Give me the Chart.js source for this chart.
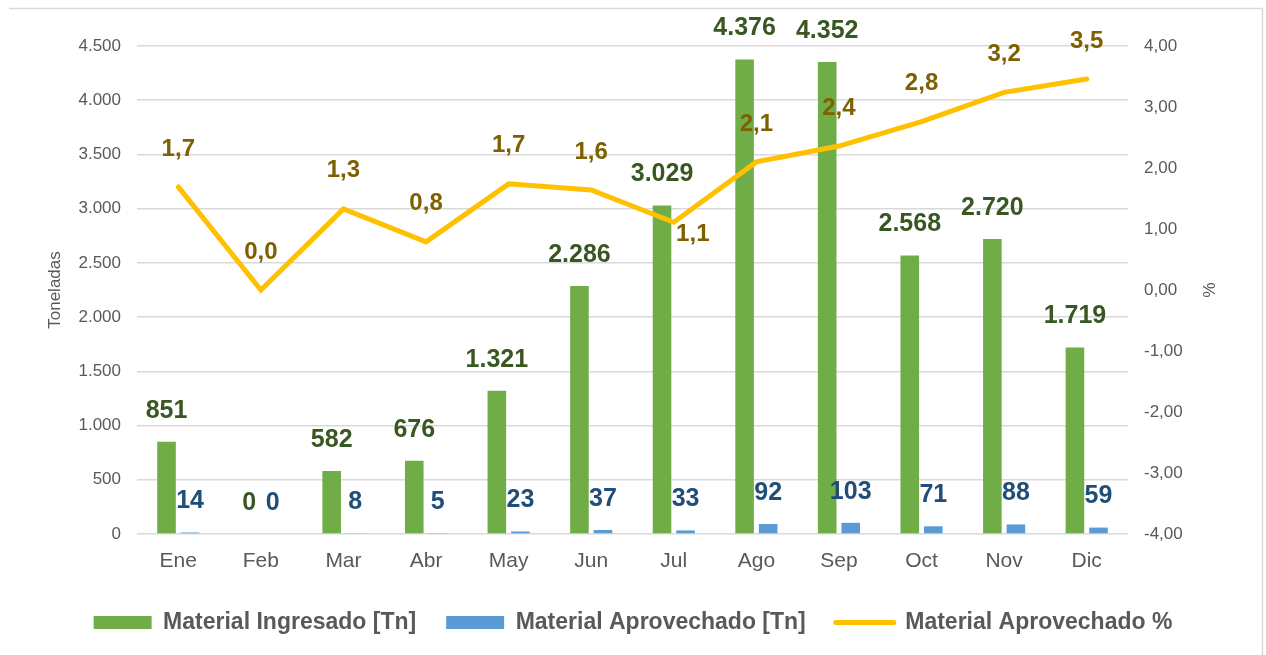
<!DOCTYPE html>
<html><head><meta charset="utf-8">
<script src="https://cdn.jsdelivr.net/npm/chart.js@4.4.1/dist/chart.umd.min.js"></script>
<style>html,body{margin:0;padding:0;background:#fff;}canvas{display:block;}</style>
</head><body>
<canvas id="c" width="1266" height="655"></canvas>
<script>
const months = ['Ene','Feb','Mar','Abr','May','Jun','Jul','Ago','Sep','Oct','Nov','Dic'];
const ingresado = [851,0,582,676,1321,2286,3029,4376,4352,2568,2720,1719];
const aprovechado = [14,0,8,5,23,37,33,92,103,71,88,59];
const aprovechadoPct = [1.69,0.0,1.33,0.79,1.74,1.64,1.11,2.10,2.36,2.76,3.24,3.46];
const seriesNames = ['Material Ingresado [Tn]','Material Aprovechado [Tn]','Material Aprovechado %'];

const FONT = "'Liberation Sans', Arial, sans-serif";
Chart.defaults.font.family = FONT;
const GREY = '#595959';

function thousands(v){ return String(Math.round(v)).replace(/\B(?=(\d{3})+(?!\d))/g,'.'); }
function comma(v,d){ return v.toFixed(d).replace('.',','); }

const frame = {
  id:'frame',
  beforeDraw(chart){
    const c = chart.ctx;
    c.save();
    c.fillStyle='#fff'; c.fillRect(0,0,chart.width,chart.height);
    c.strokeStyle='#D9D9D9'; c.lineWidth=1.5;
    c.beginPath(); c.moveTo(9,8.5); c.lineTo(1262.5,8.5); c.lineTo(1262.5,chart.height); c.stroke();
    c.restore();
  }
};

// label placement exceptions for the % line (Excel-style "right" placement)
const pctLabelRight = new Set([6]);

const valueLabels = {
  id:'valueLabels',
  afterDatasetsDraw(chart){
    const c = chart.ctx;
    chart.data.datasets.forEach((ds,di)=>{
      const meta = chart.getDatasetMeta(di);
      meta.data.forEach((el,i)=>{
        const v = ds.data[i];
        let x = el.x, y, text;
        c.save();
        if (ds.type==='line'){
          text = comma(v,1);
          c.font = "bold 24px "+FONT;
          if (pctLabelRight.has(i)) { x += 19; y = el.y + 12; }
          else { y = el.y - 38; }
        } else {
          text = thousands(v);
          c.font = "bold 25px "+FONT;
          y = el.y - 31;
        }
        c.fillStyle = ds.labelColor;
        c.textAlign='center'; c.textBaseline='middle';
        c.fillText(text,x,y);
        c.restore();
      });
    });
  }
};

new Chart(document.getElementById('c'),{
  data:{
    labels: months,
    datasets:[
      {type:'bar', label:seriesNames[0], data:ingresado, backgroundColor:'#70AD47', labelColor:'#385723',
       yAxisID:'y', order:2, categoryPercentage:0.57, barPercentage:0.79},
      {type:'bar', label:seriesNames[1], data:aprovechado, backgroundColor:'#5B9BD5', labelColor:'#1F4E79',
       yAxisID:'y', order:2, categoryPercentage:0.57, barPercentage:0.79},
      {type:'line', label:seriesNames[2], data:aprovechadoPct, borderColor:'#FFC000', backgroundColor:'#FFC000',
       labelColor:'#7F6000', borderWidth:5, pointRadius:0, tension:0, yAxisID:'y1', order:1, borderCapStyle:'round'}
    ]
  },
  options:{
    responsive:false, maintainAspectRatio:false, animation:false,
    layout:{padding:{top:46,left:0,right:0,bottom:11}},
    plugins:{
      tooltip:{enabled:false},
      legend:{
        position:'bottom',
        labels:{
          usePointStyle:true, pointStyleWidth:58, boxHeight:13, padding:30,
          font:{size:23, weight:'bold', family:FONT}, color:GREY,
          generateLabels(chart){
            return chart.data.datasets.map((ds,i)=>({
              text: ds.label,
              fillStyle: ds.type==='line'? ds.borderColor : ds.backgroundColor,
              strokeStyle: ds.type==='line'? ds.borderColor : ds.backgroundColor,
              lineWidth: ds.type==='line'? 5 : 0,
              lineCap:'round',
              pointStyle: ds.type==='line'? 'line' : 'rect',
              fontColor: GREY,
              hidden:false,
              datasetIndex:i
            }));
          }
        }
      }
    },
    scales:{
      x:{
        grid:{display:false, drawTicks:false}, border:{display:false},
        ticks:{font:{size:21}, color:GREY, padding:15},
        afterFit(s){ s.height = 47; }
      },
      y:{
        position:'left', min:0, max:4500,
        ticks:{stepSize:500, padding:16, font:{size:17}, color:GREY, callback:(v)=>thousands(v)},
        grid:{color:'#D9D9D9', lineWidth:1.5, drawTicks:false}, border:{display:false},
        title:{display:true, text:'Toneladas', font:{size:17}, color:GREY, padding:{top:45,bottom:0}},
        afterFit(s){ s.width = 137; }
      },
      y1:{
        position:'right', min:-4, max:4,
        ticks:{stepSize:1, padding:16, font:{size:17}, color:GREY, callback:(v)=>comma(v,2)},
        grid:{display:false, drawTicks:false}, border:{display:false},
        title:{display:true, text:'%', font:{size:17}, color:GREY, padding:{top:48,bottom:0}},
        afterFit(s){ s.width = 138; }
      }
    }
  },
  plugins:[frame, valueLabels]
});
</script>
</body></html>
